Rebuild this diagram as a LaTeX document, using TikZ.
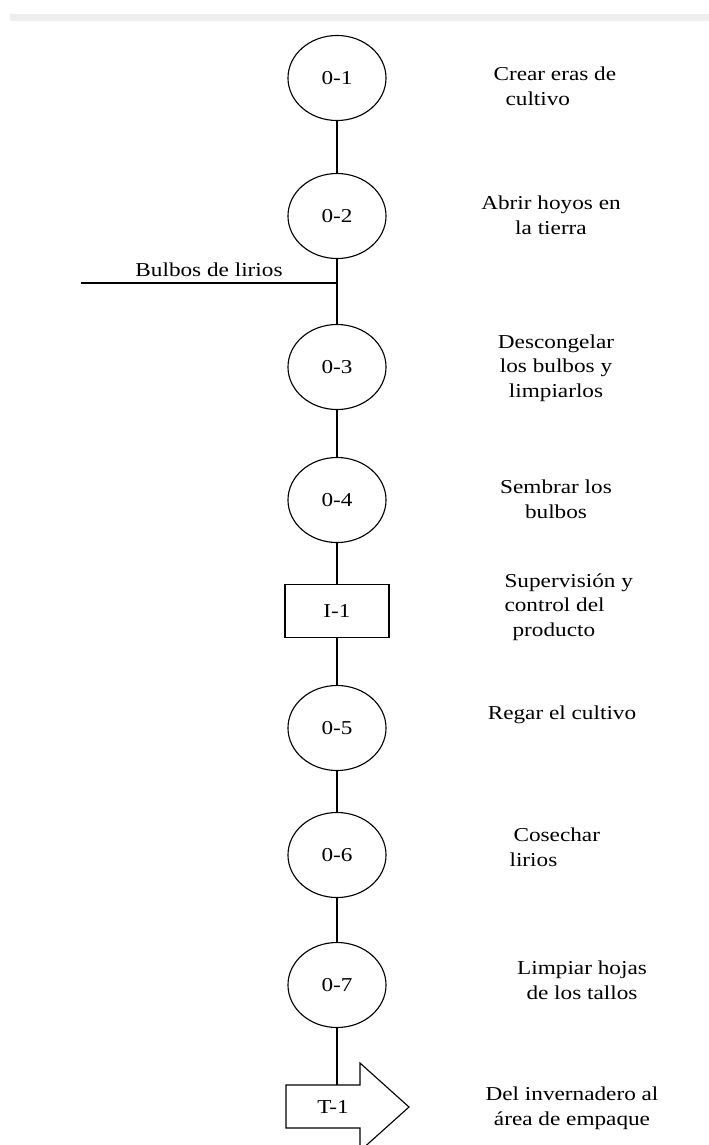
\documentclass[tikz,border=0pt]{standalone}
\usepackage{fontspec}
\setmainfont{Liberation Serif}[FakeStretch=1.18]
\usetikzlibrary{shapes.geometric}

\tikzset{
  oper/.style={ellipse,draw,line width=0.8pt,minimum width=2.45cm,minimum height=2.125cm,inner sep=0pt},
  insp/.style={rectangle,draw,line width=0.8pt,minimum width=2.6cm,minimum height=1.325cm,inner sep=0pt},
  desc/.style={inner sep=0pt,align=center},
  descl/.style={inner sep=0pt,align=left,anchor=west},
}

\begin{document}
\begin{tikzpicture}[x=0.025cm,y=-0.025cm,font=\fontsize{14}{17.5}\selectfont,line width=0.8pt]
\useasboundingbox (0,0) rectangle (709,1145);
\fill[gray!13] (10,14) rectangle (709,21);

% operaciones
\node[oper] (o1) at (337,78) {0-1};
\node[oper] (o2) at (337,216) {0-2};
\node[oper] (o3) at (337,367) {0-3};
\node[oper] (o4) at (337,500) {0-4};
\node[insp] (i1) at (337,611) {I-1};
\node[oper] (o5) at (337,728) {0-5};
\node[oper] (o6) at (337,855) {0-6};
\node[oper] (o7) at (337,985) {0-7};
\node[inner sep=0pt] (t1) at (333,1107) {T-1};
\coordinate (t1top) at (337,1085);
\draw ([shift={(-47,-22)}]t1.center) -- ([shift={(27,-22)}]t1.center)
  -- ([shift={(27,-44)}]t1.center) -- ([shift={(76,0)}]t1.center)
  -- ([shift={(27,44)}]t1.center) -- ([shift={(27,21)}]t1.center)
  -- ([shift={(-47,21)}]t1.center) -- cycle;

\path [-] (o1) edge (o2);
\path [-] (o2) edge (o3);
\path [-] (o3) edge (o4);
\path [-] (o4) edge (i1);
\path [-] (i1) edge (o5);
\path [-] (o5) edge (o6);
\path [-] (o6) edge (o7);
\path [-] (o7) edge (t1top);

% entrada de material
\coordinate (bulbos) at (81,283);
\coordinate (union) at (337,283);
\path [-] (bulbos) edge node[above,inner sep=4pt] {Bulbos de lirios} (union);

% descripciones
\node[descl] (d1) at (493,86) {Crear eras de\\\hspace{3mm}cultivo};
\node[desc] (d2) at (551,215) {Abrir hoyos en\\la tierra};
\node[desc] (d3) at (556,368) {Descongelar\\los bulbos y\\limpiarlos};
\node[desc] (d4) at (556,499) {Sembrar los\\bulbos};
\node[descl] (d5) at (504,607) {Supervisión y\\control del\\\hspace{2mm}producto};
\node[desc] (d6) at (562,715) {Regar el cultivo};
\node[descl] (d7) at (509,847) {\hspace{1mm}Cosechar\\lirios};
\node[desc] (d8) at (582,980) {Limpiar hojas\\de los tallos};
\node[desc] (d9) at (572,1108) {Del invernadero al\\área de empaque};
\end{tikzpicture}
\end{document}
